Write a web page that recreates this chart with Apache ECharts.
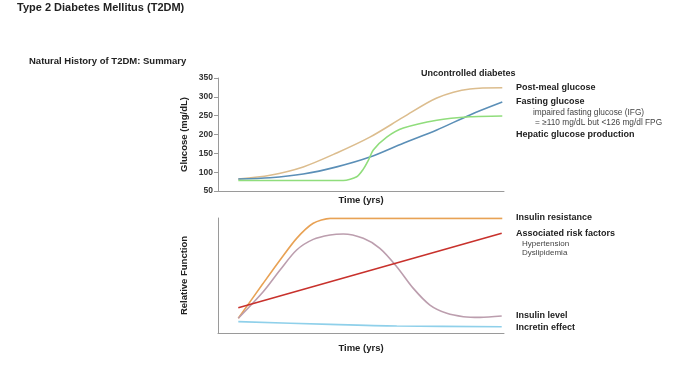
<!DOCTYPE html>
<html><head><meta charset="utf-8">
<script src="https://cdn.jsdelivr.net/npm/echarts@6/dist/echarts.min.js"></script>
<style>html,body{margin:0;padding:0;background:#fff}#c{width:700px;height:374px}</style>
</head><body><div id="c"></div>
<script>
// Time positions (relative units 0-100 along time axis)
const postMealX   = [7.1, 18.2, 29.8, 41.5, 53.1, 64.8, 76.5, 88.1, 99.4];
const postMealY   = [82, 92, 114, 151, 193, 246, 297, 321, 324];
const fastingX    = [7.1, 18.2, 29.8, 41.5, 53.1, 64.8, 76.5, 88.1, 99.4];
const fastingY    = [82, 85, 95, 114, 140, 177, 212, 252, 286];
const hepaticX    = [7.1, 30, 43.8, 48.5, 50.8, 52.6, 54.3, 59, 64.8, 76.5, 88.1, 99.4];
const hepaticY    = [78, 78, 78, 88, 108, 132, 159, 193, 217, 238, 247, 249];

const resistX     = [7.1, 15.8, 21.7, 27.5, 33.3, 39.2, 99.4];
const resistY     = [12.8, 43.2, 63.5, 82.3, 95.4, 99.7, 99.7];
const insulinX    = [7.1, 15.8, 21.7, 27.5, 33.3, 39.2, 43.8, 50.8, 56.6, 62.5, 68.3, 74.1, 80, 85.8, 91.6, 99.2];
const insulinY    = [12.8, 35.9, 54.8, 72.2, 81.4, 85.2, 86.1, 82.3, 73.6, 57.7, 38.8, 24.3, 17.1, 14.2, 13.6, 14.8];
const riskX       = [7.1, 99.2];
const riskY       = [22, 86.7];
const incretinX   = [7.1, 39.2, 62.5, 99.2];
const incretinY   = [9.9, 7.5, 6.1, 5.5];

const glucoseTicks = [50, 100, 150, 200, 250, 300, 350];

function pairs(xs, ys){ return xs.map((x,i)=>[x, ys[i]]); }

const F = "'Liberation Sans', Arial, sans-serif";
const axisCol = '#9a9a9a';
const chart = echarts.init(document.getElementById('c'), null, {renderer:'canvas'});

function txt(x, y, s, size, bold, color){
  return {type:'text', x:x, y:y, style:{text:s, font:(bold?'bold ':'')+size+'px '+F, fill:color||'#222', verticalAlign:'middle', textVerticalAlign:'middle'}};
}
function line(color, xs, ys, xi, sm){
  return {type:'line', xAxisIndex:xi, yAxisIndex:xi, data:pairs(xs, ys), smooth:sm, showSymbol:false, lineStyle:{color:color, width:1.6}};
}

chart.setOption({
  animation:false,
  grid:[
    {left:218, top:78, width:286, height:113},
    {left:218, top:218, width:286, height:115}
  ],
  xAxis:[
    {gridIndex:0, type:'value', min:0, max:100, axisLine:{show:true, lineStyle:{color:axisCol}}, axisTick:{show:false}, axisLabel:{show:false}, splitLine:{show:false},
     name:'Time (yrs)', nameLocation:'middle', nameGap:4, nameTextStyle:{fontFamily:F, fontWeight:'bold', fontSize:9.5, color:'#222', verticalAlign:'top'}},
    {gridIndex:1, type:'value', min:0, max:100, axisLine:{show:true, lineStyle:{color:axisCol}}, axisTick:{show:false}, axisLabel:{show:false}, splitLine:{show:false},
     name:'Time (yrs)', nameLocation:'middle', nameGap:10, nameTextStyle:{fontFamily:F, fontWeight:'bold', fontSize:9.5, color:'#222', verticalAlign:'top'}}
  ],
  yAxis:[
    {gridIndex:0, type:'value', min:glucoseTicks[0], max:glucoseTicks[glucoseTicks.length-1], interval:50,
     axisLine:{show:true, lineStyle:{color:axisCol}}, axisTick:{show:true, length:4, lineStyle:{color:axisCol}},
     axisLabel:{fontFamily:F, fontSize:8.5, fontWeight:'bold', color:'#333', margin:5}, splitLine:{show:false},
     name:'Glucose (mg/dL)', nameLocation:'middle', nameGap:29, nameTextStyle:{fontFamily:F, fontWeight:'bold', fontSize:9.5, color:'#222'}},
    {gridIndex:1, type:'value', min:0, max:100,
     axisLine:{show:true, lineStyle:{color:axisCol}}, axisTick:{show:false}, axisLabel:{show:false}, splitLine:{show:false},
     name:'Relative Function', nameLocation:'middle', nameGap:29, nameTextStyle:{fontFamily:F, fontWeight:'bold', fontSize:9.5, color:'#222'}}
  ],
  series:[
    line('#dcbd8e', postMealX, postMealY, 0, 0.3),
    line('#5b8fb7', fastingX, fastingY, 0, 0.3),
    line('#90dd7c', hepaticX, hepaticY, 0, 0.25),
    line('#e8a255', resistX, resistY, 1, 0.25),
    line('#bc9eae', insulinX, insulinY, 1, 0.3),
    line('#c8312c', riskX, riskY, 1, false),
    line('#8fd0ea', incretinX, incretinY, 1, 0.3)
  ],
  graphic:[
    txt(17, 8, 'Type 2 Diabetes Mellitus (T2DM)', 11, true),
    txt(29, 61, 'Natural History of T2DM: Summary', 9.5, true),
    txt(421, 74, 'Uncontrolled diabetes', 9, true),
    txt(516, 88, 'Post-meal glucose', 9, true),
    txt(516, 102, 'Fasting glucose', 9, true),
    txt(533, 113, 'impaired fasting glucose (IFG)', 8.3, false, '#444'),
    txt(535, 123, '= ≥110 mg/dL but <126 mg/dl FPG', 8.3, false, '#444'),
    txt(516, 135, 'Hepatic glucose production', 9, true),
    txt(516, 218, 'Insulin resistance', 9, true),
    txt(516, 234, 'Associated risk factors', 9, true),
    txt(522, 244, 'Hypertension', 8, false, '#444'),
    txt(522, 253, 'Dyslipidemia', 8, false, '#444'),
    txt(516, 316, 'Insulin level', 9, true),
    txt(516, 328, 'Incretin effect', 9, true)
  ]
});
</script></body></html>
